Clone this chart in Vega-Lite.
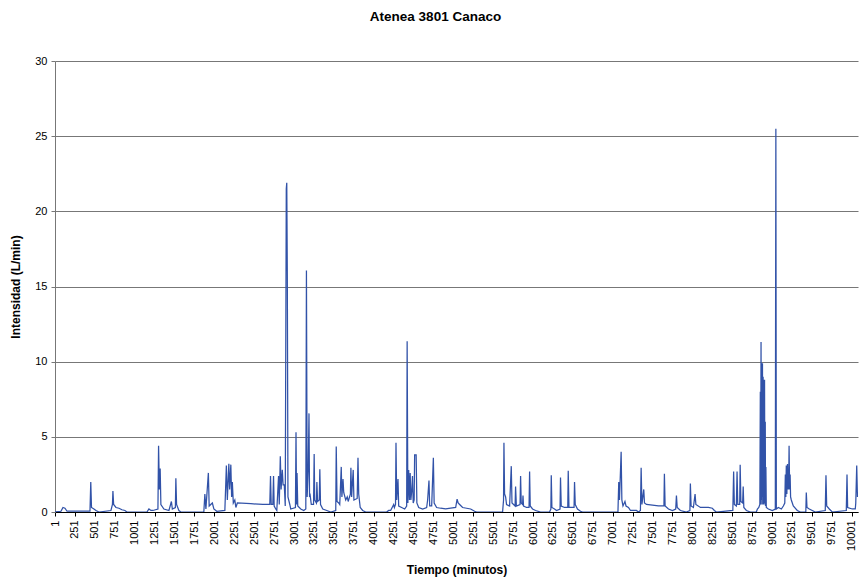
{
  "$schema": "https://vega.github.io/schema/vega-lite/v6.json",
  "width": 803,
  "height": 451,
  "autosize": "none",
  "padding": {"left": 55, "top": 61, "right": 1, "bottom": 69},
  "background": "white",
  "title": {
    "text": "Atenea 3801 Canaco",
    "font": "Liberation Sans",
    "fontSize": 13.5,
    "fontWeight": "bold",
    "color": "#000000",
    "anchor": "middle",
    "dx": -21,
    "offset": 32
  },
  "config": {
    "view": {"stroke": null},
    "font": "Liberation Sans"
  },
  "data": {
    "values": [
      {"t": 1, "v": 0.0}, {"t": 76, "v": 0.05}, {"t": 101, "v": 0.3}, {"t": 126, "v": 0.25}, {"t": 152, "v": 0.05},
      {"t": 440, "v": 0.05}, {"t": 450, "v": 2.0}, {"t": 459, "v": 0.3}, {"t": 490, "v": 0.2}, {"t": 515, "v": 0.1}, {"t": 553, "v": 0.0},
      {"t": 703, "v": 0.1}, {"t": 722, "v": 0.5}, {"t": 728, "v": 1.4}, {"t": 737, "v": 0.5}, {"t": 766, "v": 0.3}, {"t": 804, "v": 0.25}, {"t": 841, "v": 0.15}, {"t": 879, "v": 0.1}, {"t": 904, "v": 0.0},
      {"t": 1155, "v": 0.0}, {"t": 1180, "v": 0.2}, {"t": 1205, "v": 0.1}, {"t": 1230, "v": 0.1}, {"t": 1293, "v": 0.2},
      {"t": 1301, "v": 4.4}, {"t": 1311, "v": 1.5}, {"t": 1321, "v": 2.9}, {"t": 1330, "v": 0.5}, {"t": 1368, "v": 0.2}, {"t": 1431, "v": 0.1},
      {"t": 1462, "v": 0.7}, {"t": 1474, "v": 0.2}, {"t": 1512, "v": 0.3}, {"t": 1518, "v": 2.25}, {"t": 1527, "v": 0.5}, {"t": 1556, "v": 0.1}, {"t": 1581, "v": 0.0},
      {"t": 1869, "v": 0.0}, {"t": 1882, "v": 1.2}, {"t": 1895, "v": 0.2}, {"t": 1926, "v": 2.6}, {"t": 1936, "v": 0.4}, {"t": 1976, "v": 0.6}, {"t": 1995, "v": 0.2}, {"t": 2032, "v": 0.05},
      {"t": 2133, "v": 0.1}, {"t": 2152, "v": 3.1}, {"t": 2164, "v": 0.8}, {"t": 2183, "v": 3.2}, {"t": 2193, "v": 1.5}, {"t": 2208, "v": 3.15}, {"t": 2218, "v": 1.0}, {"t": 2227, "v": 2.0}, {"t": 2239, "v": 0.6}, {"t": 2258, "v": 0.8}, {"t": 2271, "v": 0.3},
      {"t": 2290, "v": 0.6}, {"t": 2459, "v": 0.55}, {"t": 2609, "v": 0.5}, {"t": 2697, "v": 0.5}, {"t": 2706, "v": 2.4}, {"t": 2715, "v": 0.5}, {"t": 2735, "v": 0.5}, {"t": 2744, "v": 2.4}, {"t": 2752, "v": 0.4}, {"t": 2772, "v": 0.2}, {"t": 2785, "v": 0.1},
      {"t": 2807, "v": 2.4}, {"t": 2816, "v": 0.5}, {"t": 2829, "v": 3.7}, {"t": 2839, "v": 1.5}, {"t": 2854, "v": 2.8}, {"t": 2864, "v": 1.8}, {"t": 2879, "v": 1.8}, {"t": 2891, "v": 0.4},
      {"t": 2904, "v": 21.5}, {"t": 2910, "v": 21.9}, {"t": 2917, "v": 15.7}, {"t": 2925, "v": 1.0}, {"t": 2948, "v": 0.5}, {"t": 2960, "v": 0.2},
      {"t": 3019, "v": 0.3}, {"t": 3026, "v": 5.3}, {"t": 3033, "v": 0.5}, {"t": 3039, "v": 2.6}, {"t": 3048, "v": 0.4}, {"t": 3086, "v": 0.2}, {"t": 3123, "v": 0.1},
      {"t": 3149, "v": 0.2}, {"t": 3157, "v": 16.06}, {"t": 3166, "v": 1.0}, {"t": 3180, "v": 3.0}, {"t": 3189, "v": 6.56}, {"t": 3196, "v": 1.0}, {"t": 3204, "v": 1.1}, {"t": 3218, "v": 0.5},
      {"t": 3246, "v": 0.5}, {"t": 3254, "v": 3.85}, {"t": 3261, "v": 0.8}, {"t": 3282, "v": 0.6}, {"t": 3288, "v": 2.0}, {"t": 3297, "v": 0.7}, {"t": 3318, "v": 0.8}, {"t": 3325, "v": 2.85}, {"t": 3334, "v": 0.5}, {"t": 3362, "v": 0.2}, {"t": 3412, "v": 0.1}, {"t": 3462, "v": 0.0},
      {"t": 3525, "v": 0.1}, {"t": 3531, "v": 4.35}, {"t": 3541, "v": 0.7}, {"t": 3562, "v": 0.6}, {"t": 3575, "v": 0.5}, {"t": 3594, "v": 3.0}, {"t": 3602, "v": 1.0}, {"t": 3616, "v": 2.2}, {"t": 3625, "v": 1.3}, {"t": 3650, "v": 0.8}, {"t": 3669, "v": 1.0}, {"t": 3681, "v": 0.7},
      {"t": 3709, "v": 1.2}, {"t": 3715, "v": 2.95}, {"t": 3724, "v": 1.0}, {"t": 3744, "v": 2.8}, {"t": 3753, "v": 0.8}, {"t": 3794, "v": 0.9}, {"t": 3804, "v": 3.6}, {"t": 3813, "v": 1.2}, {"t": 3832, "v": 0.3}, {"t": 3863, "v": 0.1}, {"t": 3901, "v": 0.0},
      {"t": 4164, "v": 0.0}, {"t": 4189, "v": 0.1}, {"t": 4214, "v": 0.1}, {"t": 4252, "v": 0.5}, {"t": 4261, "v": 0.3}, {"t": 4275, "v": 0.5}, {"t": 4281, "v": 4.6}, {"t": 4290, "v": 0.8}, {"t": 4306, "v": 2.2}, {"t": 4315, "v": 0.4}, {"t": 4352, "v": 0.3}, {"t": 4390, "v": 0.2},
      {"t": 4415, "v": 0.4}, {"t": 4421, "v": 11.35}, {"t": 4430, "v": 0.6}, {"t": 4440, "v": 2.8}, {"t": 4450, "v": 0.8}, {"t": 4459, "v": 2.6}, {"t": 4468, "v": 0.8}, {"t": 4480, "v": 1.5}, {"t": 4488, "v": 2.4}, {"t": 4497, "v": 0.6}, {"t": 4509, "v": 0.8}, {"t": 4515, "v": 3.8}, {"t": 4534, "v": 3.8}, {"t": 4543, "v": 0.6},
      {"t": 4566, "v": 0.3}, {"t": 4616, "v": 0.2}, {"t": 4666, "v": 0.3}, {"t": 4678, "v": 0.8}, {"t": 4695, "v": 2.1}, {"t": 4704, "v": 0.4}, {"t": 4729, "v": 0.4}, {"t": 4750, "v": 3.6}, {"t": 4760, "v": 0.6}, {"t": 4791, "v": 0.3}, {"t": 4841, "v": 0.25}, {"t": 4904, "v": 0.2}, {"t": 4967, "v": 0.25},
      {"t": 5030, "v": 0.3}, {"t": 5048, "v": 0.85}, {"t": 5061, "v": 0.6}, {"t": 5080, "v": 0.5}, {"t": 5117, "v": 0.3}, {"t": 5167, "v": 0.25}, {"t": 5218, "v": 0.2}, {"t": 5268, "v": 0.05}, {"t": 5293, "v": 0.0},
      {"t": 5619, "v": 0.0}, {"t": 5631, "v": 0.8}, {"t": 5636, "v": 4.6}, {"t": 5644, "v": 1.2}, {"t": 5657, "v": 1.0}, {"t": 5669, "v": 0.5}, {"t": 5707, "v": 0.4}, {"t": 5728, "v": 3.05}, {"t": 5737, "v": 0.6}, {"t": 5776, "v": 0.4}, {"t": 5782, "v": 1.7}, {"t": 5792, "v": 0.4},
      {"t": 5838, "v": 0.5}, {"t": 5845, "v": 2.4}, {"t": 5853, "v": 0.6}, {"t": 5870, "v": 0.5}, {"t": 5875, "v": 1.1}, {"t": 5882, "v": 0.4}, {"t": 5920, "v": 0.3}, {"t": 5951, "v": 0.3}, {"t": 5958, "v": 2.7}, {"t": 5966, "v": 0.4}, {"t": 5995, "v": 0.2}, {"t": 6033, "v": 0.1}, {"t": 6095, "v": 0.0},
      {"t": 6208, "v": 0.0}, {"t": 6225, "v": 0.2}, {"t": 6230, "v": 2.45}, {"t": 6238, "v": 0.3}, {"t": 6271, "v": 0.2}, {"t": 6296, "v": 0.1}, {"t": 6340, "v": 0.2}, {"t": 6346, "v": 2.3}, {"t": 6355, "v": 0.4}, {"t": 6396, "v": 0.3},
      {"t": 6437, "v": 0.3}, {"t": 6443, "v": 2.75}, {"t": 6452, "v": 0.3}, {"t": 6484, "v": 0.3}, {"t": 6516, "v": 0.3}, {"t": 6522, "v": 2.0}, {"t": 6531, "v": 0.5}, {"t": 6559, "v": 0.2}, {"t": 6597, "v": 0.05}, {"t": 6622, "v": 0.0},
      {"t": 7067, "v": 0.0}, {"t": 7077, "v": 2.0}, {"t": 7086, "v": 0.8}, {"t": 7107, "v": 4.0}, {"t": 7116, "v": 0.8}, {"t": 7130, "v": 0.4}, {"t": 7155, "v": 0.7}, {"t": 7168, "v": 0.4}, {"t": 7199, "v": 0.3}, {"t": 7224, "v": 0.1}, {"t": 7262, "v": 0.1}, {"t": 7299, "v": 0.1}, {"t": 7324, "v": 0.0},
      {"t": 7349, "v": 0.1}, {"t": 7358, "v": 2.95}, {"t": 7368, "v": 0.5}, {"t": 7391, "v": 1.5}, {"t": 7400, "v": 0.6}, {"t": 7425, "v": 0.5}, {"t": 7500, "v": 0.45}, {"t": 7575, "v": 0.4}, {"t": 7644, "v": 0.4}, {"t": 7650, "v": 2.55}, {"t": 7659, "v": 0.4}, {"t": 7701, "v": 0.2}, {"t": 7751, "v": 0.1},
      {"t": 7792, "v": 0.2}, {"t": 7801, "v": 1.1}, {"t": 7811, "v": 0.3}, {"t": 7851, "v": 0.1}, {"t": 7926, "v": 0.0}, {"t": 7970, "v": 0.1}, {"t": 7976, "v": 1.9}, {"t": 7985, "v": 0.4}, {"t": 8014, "v": 0.3}, {"t": 8035, "v": 1.2}, {"t": 8045, "v": 0.5}, {"t": 8102, "v": 0.3}, {"t": 8202, "v": 0.3}, {"t": 8252, "v": 0.25}, {"t": 8277, "v": 0.1}, {"t": 8302, "v": 0.0},
      {"t": 8509, "v": 0.1}, {"t": 8519, "v": 2.7}, {"t": 8528, "v": 0.5}, {"t": 8553, "v": 0.4}, {"t": 8562, "v": 2.7}, {"t": 8571, "v": 0.5}, {"t": 8595, "v": 0.5}, {"t": 8601, "v": 3.15}, {"t": 8610, "v": 0.7}, {"t": 8632, "v": 0.6}, {"t": 8639, "v": 1.7}, {"t": 8647, "v": 0.3}, {"t": 8679, "v": 0.1}, {"t": 8729, "v": 0.0},
      {"t": 8804, "v": 0.0}, {"t": 8817, "v": 0.2}, {"t": 8835, "v": 0.3}, {"t": 8848, "v": 0.5}, {"t": 8854, "v": 8.0}, {"t": 8858, "v": 0.5}, {"t": 8863, "v": 11.3}, {"t": 8867, "v": 0.8}, {"t": 8872, "v": 9.9}, {"t": 8876, "v": 0.5}, {"t": 8881, "v": 9.9}, {"t": 8884, "v": 1.0}, {"t": 8889, "v": 9.0}, {"t": 8893, "v": 0.5}, {"t": 8898, "v": 8.8}, {"t": 8902, "v": 0.6}, {"t": 8907, "v": 8.8}, {"t": 8911, "v": 0.5}, {"t": 8916, "v": 6.0}, {"t": 8919, "v": 0.4}, {"t": 8924, "v": 3.0}, {"t": 8929, "v": 0.3},
      {"t": 8955, "v": 0.2}, {"t": 9005, "v": 0.1}, {"t": 9042, "v": 0.2}, {"t": 9049, "v": 25.5}, {"t": 9055, "v": 0.2}, {"t": 9080, "v": 0.3}, {"t": 9118, "v": 0.2}, {"t": 9143, "v": 0.4},
      {"t": 9161, "v": 0.6}, {"t": 9168, "v": 2.5}, {"t": 9174, "v": 1.0}, {"t": 9180, "v": 3.1}, {"t": 9187, "v": 1.2}, {"t": 9195, "v": 3.2}, {"t": 9200, "v": 1.5}, {"t": 9205, "v": 2.7}, {"t": 9209, "v": 1.5}, {"t": 9215, "v": 4.4}, {"t": 9222, "v": 1.5}, {"t": 9228, "v": 2.5}, {"t": 9234, "v": 1.0}, {"t": 9243, "v": 0.8}, {"t": 9268, "v": 0.4}, {"t": 9318, "v": 0.1}, {"t": 9356, "v": 0.0},
      {"t": 9425, "v": 0.0}, {"t": 9431, "v": 1.3}, {"t": 9440, "v": 0.3}, {"t": 9469, "v": 0.2}, {"t": 9506, "v": 0.1}, {"t": 9544, "v": 0.0},
      {"t": 9669, "v": 0.1}, {"t": 9678, "v": 2.45}, {"t": 9687, "v": 0.4}, {"t": 9720, "v": 0.2}, {"t": 9757, "v": 0.0},
      {"t": 9933, "v": 0.1}, {"t": 9942, "v": 2.5}, {"t": 9950, "v": 0.3}, {"t": 10008, "v": 0.2}, {"t": 10046, "v": 0.2}, {"t": 10052, "v": 0.6}, {"t": 10064, "v": 3.1}, {"t": 10073, "v": 1.0}, {"t": 10080, "v": 1.3}
    ]
  },
  "mark": {"type": "line", "color": "#3152A8", "strokeWidth": 1.25, "clip": true},
  "encoding": {
    "x": {
      "field": "t",
      "type": "quantitative",
      "scale": {"domain": [1, 10080], "nice": false, "zero": false},
      "axis": {
        "title": "Tiempo (minutos)",
        "titleFont": "Liberation Sans",
        "titleFontSize": 12,
        "titleFontWeight": "bold",
        "titleColor": "#000000",
        "titlePadding": 14,
        "values": [1, 251, 501, 751, 1001, 1251, 1501, 1751, 2001, 2251, 2501, 2751, 3001, 3251, 3501, 3751, 4001, 4251, 4501, 4751, 5001, 5251, 5501, 5751, 6001, 6251, 6501, 6751, 7001, 7251, 7501, 7751, 8001, 8251, 8501, 8751, 9001, 9251, 9501, 9751, 10001],
        "format": "d",
        "labelAngle": 270,
        "labelAlign": "right",
        "labelBaseline": "middle",
        "labelFont": "Liberation Sans",
        "labelFontSize": 11,
        "labelColor": "#000000",
        "labelPadding": 4,
        "labelOverlap": false,
        "labelBound": false,
        "labelFlush": false,
        "grid": false,
        "domainColor": "#000000",
        "domainWidth": 1,
        "tickColor": "#000000",
        "tickSize": 4
      }
    },
    "y": {
      "field": "v",
      "type": "quantitative",
      "scale": {"domain": [0, 30], "nice": false},
      "axis": {
        "title": "Intensidad (L/min)",
        "titleFont": "Liberation Sans",
        "titleFontSize": 12,
        "titleFontWeight": "bold",
        "titleColor": "#000000",
        "titlePadding": 12,
        "values": [0, 5, 10, 15, 20, 25, 30],
        "labelFont": "Liberation Sans",
        "labelFontSize": 11,
        "labelColor": "#000000",
        "labelPadding": 4,
        "grid": true,
        "gridColor": "#777777",
        "gridWidth": 1,
        "domainColor": "#777777",
        "domainWidth": 1,
        "tickColor": "#777777",
        "tickSize": 4
      }
    }
  }
}
